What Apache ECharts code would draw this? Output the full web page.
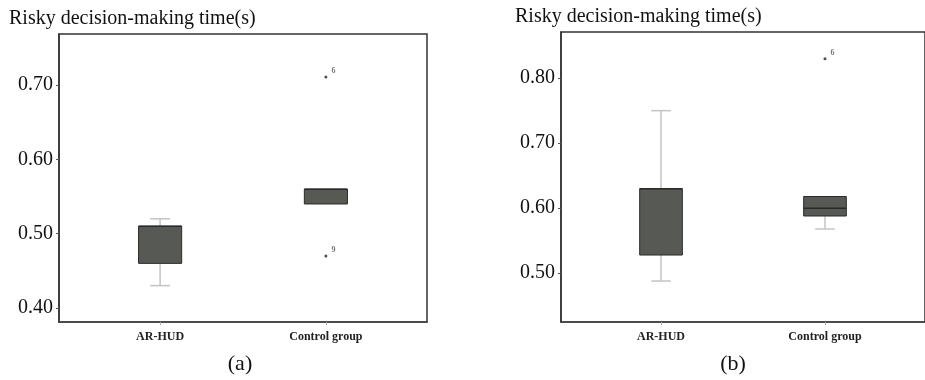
<!DOCTYPE html>
<html lang="en">
<head>
    <meta charset="UTF-8" />
    <title>Risky decision-making time</title>
    <script src="https://cdn.jsdelivr.net/npm/echarts@6/dist/echarts.min.js"></script>
</head>
<body style="margin:0;background:#fff">
    <div id="chart" style="width: 925px; height: 380px"></div>
    <script>
        var categories = ["AR-HUD", "Control group"];
        // [index, min, Q1, median, Q3, max]
        var boxA = [
            [0, 0.43, 0.46, 0.51, 0.51, 0.52],
            [1, 0.54, 0.54, 0.56, 0.56, 0.56],
        ];
        var outliersA = [
            [1, 0.711, "6"],
            [1, 0.47, "9"],
        ];
        var boxB = [
            [0, 0.488, 0.528, 0.63, 0.63, 0.75],
            [1, 0.568, 0.588, 0.60, 0.618, 0.618],
        ];
        var outliersB = [[1, 0.83, "6"]];
        var tickLabelsA = [0.4, 0.5, 0.6, 0.7];
        var tickLabelsB = [0.5, 0.6, 0.7, 0.8];

        var serif = "Liberation Serif";
        var chart = echarts.init(document.getElementById("chart"));

        function renderBox(params, api) {
            var x = api.value(0);
            var w = api.size([0.26, 0])[0];
            var cap = api.size([0.12, 0])[0];
            var pMin = api.coord([x, api.value(1)]);
            var pQ1 = api.coord([x, api.value(2)]);
            var pMed = api.coord([x, api.value(3)]);
            var pQ3 = api.coord([x, api.value(4)]);
            var pMax = api.coord([x, api.value(5)]);
            var cx = pMin[0];
            var whisker = { stroke: "#c4c4c4", lineWidth: 1.5 };
            var children = [];
            if (pMax[1] < pQ3[1] - 0.5) {
                children.push({ type: "line", shape: { x1: cx, y1: pMax[1], x2: cx, y2: pQ3[1] }, style: whisker });
                children.push({ type: "line", shape: { x1: cx - cap / 2, y1: pMax[1], x2: cx + cap / 2, y2: pMax[1] }, style: whisker });
            }
            if (pMin[1] > pQ1[1] + 0.5) {
                children.push({ type: "line", shape: { x1: cx, y1: pQ1[1], x2: cx, y2: pMin[1] }, style: whisker });
                children.push({ type: "line", shape: { x1: cx - cap / 2, y1: pMin[1], x2: cx + cap / 2, y2: pMin[1] }, style: whisker });
            }
            children.push({
                type: "rect",
                shape: { x: cx - w / 2, y: pQ3[1], width: w, height: pQ1[1] - pQ3[1] },
                style: { fill: "#575955", stroke: "#2a2a2a", lineWidth: 1 },
            });
            children.push({
                type: "line",
                shape: { x1: cx - w / 2, y1: pMed[1], x2: cx + w / 2, y2: pMed[1] },
                style: { stroke: "#2a2a2a", lineWidth: 1.5 },
            });
            return { type: "group", children: children };
        }

        function yAxisFor(gridIndex, min, max, ticks) {
            return {
                type: "value",
                gridIndex: gridIndex,
                min: min,
                max: max,
                splitLine: { show: false },
                axisLine: { show: true, onZero: false, lineStyle: { color: "#333", width: 1.5 } },
                axisTick: { show: true, length: 3, customValues: ticks, lineStyle: { color: "#555" } },
                axisLabel: {
                    customValues: ticks,
                    margin: 6,
                    color: "#111",
                    fontFamily: serif,
                    fontSize: 20,
                    formatter: function (v) { return v.toFixed(2); },
                },
            };
        }

        function xAxisFor(gridIndex) {
            return {
                type: "value",
                gridIndex: gridIndex,
                min: -0.61,
                max: 1.61,
                splitLine: { show: false },
                axisLine: { show: true, onZero: false, lineStyle: { color: "#444", width: 1.5 } },
                axisTick: { show: true, length: 3, customValues: [0, 1], lineStyle: { color: "#aaa" } },
                axisLabel: {
                    customValues: [0, 1],
                    margin: 9,
                    color: "#222",
                    fontFamily: serif,
                    fontWeight: "bold",
                    fontSize: 12,
                    formatter: function (v) { return categories[Math.round(v)]; },
                },
            };
        }

        function outlierSeries(idx, data) {
            return {
                type: "scatter",
                xAxisIndex: idx,
                yAxisIndex: idx,
                data: data,
                symbolSize: 3,
                itemStyle: { color: "#222" },
                label: {
                    show: true,
                    position: "right",
                    offset: [-1, -6],
                    fontSize: 8,
                    fontWeight: "bold",
                    color: "#555",
                    fontFamily: serif,
                    formatter: function (p) { return p.value[2]; },
                },
            };
        }

        function caption(text, x, y, align) {
            return {
                type: "text",
                x: x,
                y: y,
                style: { text: text, font: "20px '" + serif + "'", fill: "#111", align: align, verticalAlign: "top" },
            };
        }

        var option = {
            backgroundColor: "#fff",
            animation: false,
            graphic: [
                caption("Risky decision-making time(s)", 9, 9, "left"),
                caption("Risky decision-making time(s)", 515, 7, "left"),
                { type: "text", x: 240, y: 353, style: { text: "(a)", font: "22px '" + serif + "'", fill: "#111", align: "center", verticalAlign: "top" } },
                { type: "text", x: 733, y: 353, style: { text: "(b)", font: "22px '" + serif + "'", fill: "#111", align: "center", verticalAlign: "top" } },
            ],
            grid: [
                { left: 59, top: 34, width: 368, height: 288, show: true, borderColor: "#333", borderWidth: 1.5 },
                { left: 561, top: 32, width: 369, height: 290, show: true, borderColor: "#333", borderWidth: 1.5 },
            ],
            xAxis: [xAxisFor(0), xAxisFor(1)],
            yAxis: [yAxisFor(0, 0.381, 0.769, tickLabelsA), yAxisFor(1, 0.425, 0.871, tickLabelsB)],
            series: [
                { type: "custom", xAxisIndex: 0, yAxisIndex: 0, data: boxA, renderItem: renderBox, encode: { x: 0, y: [1, 2, 3, 4, 5] } },
                { type: "custom", xAxisIndex: 1, yAxisIndex: 1, data: boxB, renderItem: renderBox, encode: { x: 0, y: [1, 2, 3, 4, 5] } },
                outlierSeries(0, outliersA),
                outlierSeries(1, outliersB),
            ],
        };
        chart.setOption(option);
    </script>
</body>
</html>
